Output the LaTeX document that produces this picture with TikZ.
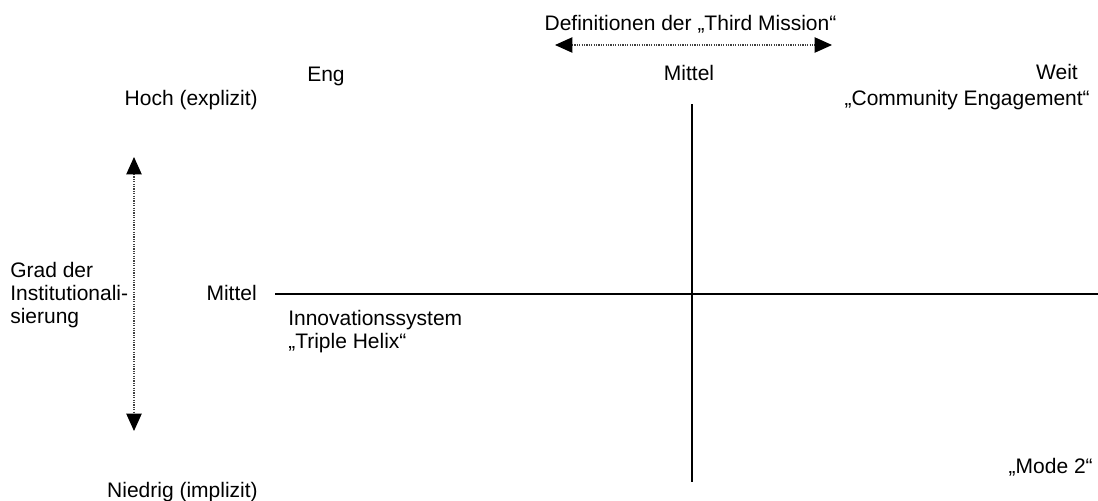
\documentclass[tikz,border=0pt]{standalone}
\usepackage{fontspec}
\setmainfont{Liberation Sans}
\usetikzlibrary{arrows.meta}
\begin{document}
\begin{tikzpicture}[x=0.75pt,y=-0.75pt,
  lbl/.style={inner sep=0pt,font=\fontsize{15.75}{17.25}\selectfont},
  axisline/.style={line width=2pt,black},
  dotarrow/.style={line width=0.8pt,densely dotted,black!75,
    {Triangle[length=13pt,width=11.5pt,fill=black,color=black]}-{Triangle[length=13pt,width=11.5pt,fill=black,color=black]}}]
\useasboundingbox (0,0) rectangle (1098,500);
% axes
\coordinate (hl) at (275,294);
\coordinate (hr) at (1098,294);
\coordinate (vt) at (692,104);
\coordinate (vb) at (692,482);
\draw[axisline] (hl) -- (hr);
\draw[axisline] (vt) -- (vb);
% dotted arrows
\coordinate (al) at (555,45);
\coordinate (ar) at (832,45);
\draw[dotarrow] (al) -- (ar);
\coordinate (at) at (134,157);
\coordinate (ab) at (134,431);
\draw[dotarrow] (at) -- (ab);
% labels
\node[lbl,anchor=base] (def) at (690.5,30) {Definitionen der „Third Mission“};
\node[lbl,anchor=base west] (eng) at (307,81) {Eng};
\node[lbl,anchor=base] (mitteltop) at (689,80) {Mittel};
\node[lbl,anchor=base east] (weit) at (1078,79) {Weit};
\node[lbl,anchor=base east] (hoch) at (258,105) {Hoch (explizit)};
\node[lbl,anchor=base east] (comm) at (1090,105) {„Community Engagement“};
\node[lbl,anchor=base west] (grad1) at (10,277) {Grad der};
\node[lbl,anchor=base west] (grad2) at (10,300) {Institutionali-};
\node[lbl,anchor=base west] (grad3) at (10,323) {sierung};
\node[lbl,anchor=base east] (mittelleft) at (257,300) {Mittel};
\node[lbl,anchor=base west] (innov) at (288,325) {Innovationssystem};
\node[lbl,anchor=base west] (helix) at (288,348) {„Triple Helix“};
\node[lbl,anchor=base east] (mode) at (1093,473) {„Mode 2“};
\node[lbl,anchor=base east] (niedrig) at (258,497) {Niedrig (implizit)};
\end{tikzpicture}
\end{document}
